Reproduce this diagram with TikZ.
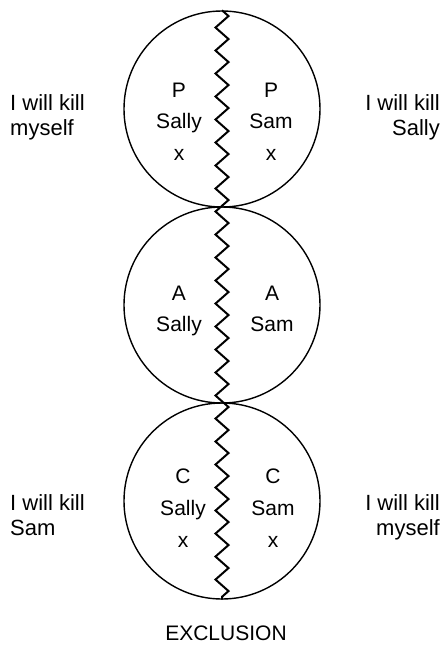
\documentclass[tikz,border=0pt]{standalone}
\usepackage{fontspec}
\setmainfont{Liberation Sans}
\usetikzlibrary{decorations.pathmorphing}
\begin{document}
\begin{tikzpicture}[x=1pt,y=-1pt,
  ring/.style={draw, circle, line width=1.4pt, minimum size=196pt, inner sep=0pt},
  wave/.style={line width=2pt, decorate, decoration={zigzag, segment length=23pt, amplitude=6.5pt}},
  intext/.style={anchor=base, inner sep=0pt, font=\fontsize{21}{25}\selectfont},
  lbl/.style={inner sep=0pt, font=\fontsize{22}{26}\selectfont},
  captext/.style={anchor=base, inner sep=0pt, font=\fontsize{21}{25}\selectfont}]
\useasboundingbox (0,0) rectangle (443,645);
\node[ring] (c1) at (222,109) {};
\node[ring] (c2) at (222,305) {};
\node[ring] (c3) at (222,501) {};
\draw[wave] (c1.north) -- (c3.south);
% circle 1
\node[intext] (p1) at (179,97) {P};
\node[intext] (s1) at (179,128) {Sally};
\node[intext] (x1) at (179,160) {x};
\node[intext] (p2) at (271,97) {P};
\node[intext] (s2) at (271,128) {Sam};
\node[intext] (x2) at (271,160) {x};
% circle 2
\node[intext] (a1) at (179,300) {A};
\node[intext] (s3) at (179,331) {Sally};
\node[intext] (a2) at (272,300) {A};
\node[intext] (s4) at (272,331) {Sam};
% circle 3
\node[intext] (k1) at (183,483) {C};
\node[intext] (s5) at (183,515) {Sally};
\node[intext] (x3) at (183,547) {x};
\node[intext] (k2) at (273,483) {C};
\node[intext] (s6) at (273,515) {Sam};
\node[intext] (x4) at (273,547) {x};
% side labels
\node[lbl, anchor=base west] (l1) at (10,110) {I will kill};
\node[lbl, anchor=base west] (l2) at (10,135) {myself};
\node[lbl, anchor=base east] (r1) at (440,110) {I will kill};
\node[lbl, anchor=base east] (r2) at (440,135) {Sally};
\node[lbl, anchor=base west] (l3) at (10,510) {I will kill};
\node[lbl, anchor=base west] (l4) at (10,535) {Sam};
\node[lbl, anchor=base east] (r3) at (440,510) {I will kill};
\node[lbl, anchor=base east] (r4) at (440,535) {myself};
\node[captext] (ex) at (226,640) {EXCLUSION};
\end{tikzpicture}
\end{document}
